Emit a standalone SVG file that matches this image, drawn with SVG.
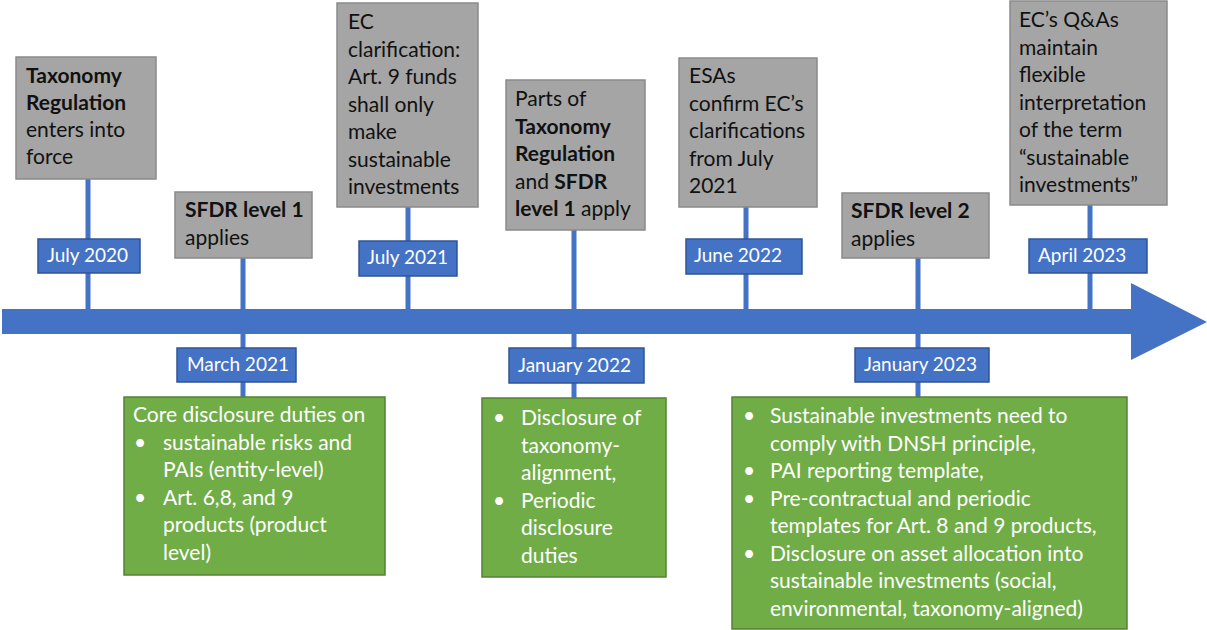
<svg xmlns="http://www.w3.org/2000/svg" width="1207" height="630" viewBox="0 0 1207 630">
<style>
.gray{fill:#A5A5A5;stroke:#8A8A8A;stroke-width:1.5}
.date{fill:#4472C4;stroke:#2F5597;stroke-width:1.5}
.green{fill:#70AD47;stroke:#548235;stroke-width:1.5}
.conn{stroke:#4472C4;stroke-width:5;fill:none}
text{font-family:Lato,"Liberation Sans",sans-serif}
.t{font-size:21px;fill:#111}
.b{font-weight:bold}
.d{font-size:19px;fill:#fff}
.w{font-size:21px;fill:#fff}
</style>
<rect width="1207" height="630" fill="#fff"/>
<g id="connectors">
<line class="conn" x1="88" y1="179" x2="88" y2="310"/>
<line class="conn" x1="243" y1="258" x2="243" y2="397"/>
<line class="conn" x1="408" y1="207" x2="408" y2="310"/>
<line class="conn" x1="574" y1="230" x2="574" y2="398"/>
<line class="conn" x1="746" y1="207" x2="746" y2="310"/>
<line class="conn" x1="918" y1="258" x2="918" y2="397"/>
<line class="conn" x1="1090" y1="205" x2="1090" y2="310"/>
</g>
<g id="timeline">
<polygon points="2,309 1131,309 1131,283 1207,322 1131,360 1131,334 2,334" fill="#4472C4"/>
</g>
<g id="n-jul2020-event">
<rect class="gray" x="16" y="57" width="140" height="122"/>
<text class="t" x="26"><tspan class="b" x="26" y="83">Taxonomy</tspan><tspan class="b" x="26" y="110">Regulation</tspan><tspan x="26" y="137">enters into</tspan><tspan x="26" y="164">force</tspan></text>
</g>
<g id="n-jul2020-date">
<rect class="date" x="38" y="239" width="102" height="34"/>
<text class="d" x="47" y="262">July 2020</text>
</g>
<g id="n-mar2021-event">
<rect class="gray" x="175" y="192" width="137" height="66"/>
<text class="t"><tspan class="b" x="185" y="217">SFDR level 1</tspan><tspan x="185" y="245">applies</tspan></text>
</g>
<g id="n-mar2021-date">
<rect class="date" x="177" y="348" width="119" height="34"/>
<text class="d" x="187" y="371">March 2021</text>
</g>
<g id="n-mar2021-duties">
<rect class="green" x="124" y="397" width="261" height="178"/>
<text class="w"><tspan x="133" y="422">Core disclosure duties on</tspan><tspan x="134" y="449.5">•</tspan><tspan x="163" y="449.5">sustainable risks and</tspan><tspan x="163" y="477">PAIs (entity-level)</tspan><tspan x="134" y="504.5">•</tspan><tspan x="163" y="504.5">Art. 6,8, and 9</tspan><tspan x="163" y="532">products (product</tspan><tspan x="163" y="559.5">level)</tspan></text>
</g>
<g id="n-jul2021-event">
<rect class="gray" x="337" y="3" width="141" height="204"/>
<text class="t"><tspan x="348" y="29">EC</tspan><tspan x="348" y="56.5">clarification:</tspan><tspan x="348" y="84">Art. 9 funds</tspan><tspan x="348" y="111.5">shall only</tspan><tspan x="348" y="139">make</tspan><tspan x="348" y="166.5">sustainable</tspan><tspan x="348" y="194">investments</tspan></text>
</g>
<g id="n-jul2021-date">
<rect class="date" x="359" y="241" width="98" height="35"/>
<text class="d" x="367" y="264">July 2021</text>
</g>
<g id="n-jan2022-event">
<rect class="gray" x="506" y="80" width="139" height="150"/>
<text class="t"><tspan x="515" y="106">Parts of</tspan><tspan class="b" x="515" y="133.5">Taxonomy</tspan><tspan class="b" x="515" y="161">Regulation</tspan><tspan x="515" y="188.5">and </tspan><tspan class="b">SFDR</tspan><tspan class="b" x="515" y="216">level 1</tspan><tspan> apply</tspan></text>
</g>
<g id="n-jan2022-date">
<rect class="date" x="509" y="348" width="135" height="35"/>
<text class="d" x="518" y="372">January 2022</text>
</g>
<g id="n-jan2022-duties">
<rect class="green" x="482" y="398" width="184" height="179"/>
<text class="w"><tspan x="493" y="425">•</tspan><tspan x="521" y="425">Disclosure of</tspan><tspan x="521" y="452.5">taxonomy-</tspan><tspan x="521" y="480">alignment,</tspan><tspan x="493" y="507.5">•</tspan><tspan x="521" y="507.5">Periodic</tspan><tspan x="521" y="535">disclosure</tspan><tspan x="521" y="562.5">duties</tspan></text>
</g>
<g id="n-jun2022-event">
<rect class="gray" x="679" y="58" width="138" height="149"/>
<text class="t"><tspan x="689" y="83">ESAs</tspan><tspan x="689" y="110.5">confirm EC’s</tspan><tspan x="689" y="138">clarifications</tspan><tspan x="689" y="165.5">from July</tspan><tspan x="689" y="193">2021</tspan></text>
</g>
<g id="n-jun2022-date">
<rect class="date" x="686" y="239" width="116" height="35"/>
<text class="d" x="694" y="262">June 2022</text>
</g>
<g id="n-jan2023-event">
<rect class="gray" x="842" y="193" width="147" height="65"/>
<text class="t"><tspan class="b" x="851" y="218">SFDR level 2</tspan><tspan x="851" y="246">applies</tspan></text>
</g>
<g id="n-jan2023-date">
<rect class="date" x="855" y="348" width="134" height="34"/>
<text class="d" x="864" y="371">January 2023</text>
</g>
<g id="n-jan2023-duties">
<rect class="green" x="732" y="397" width="395" height="232"/>
<text class="w"><tspan x="743" y="423">•</tspan><tspan x="770" y="423">Sustainable investments need to</tspan><tspan x="770" y="450.5">comply with DNSH principle,</tspan><tspan x="743" y="478">•</tspan><tspan x="770" y="478">PAI reporting template,</tspan><tspan x="743" y="505.5">•</tspan><tspan x="770" y="505.5">Pre-contractual and periodic</tspan><tspan x="770" y="533">templates for Art. 8 and 9 products,</tspan><tspan x="743" y="560.5">•</tspan><tspan x="770" y="560.5">Disclosure on asset allocation into</tspan><tspan x="770" y="588">sustainable investments (social,</tspan><tspan x="770" y="615.5">environmental, taxonomy-aligned)</tspan></text>
</g>
<g id="n-apr2023-event">
<rect class="gray" x="1010" y="1" width="157" height="204"/>
<text class="t"><tspan x="1019" y="27">EC’s Q&amp;As</tspan><tspan x="1019" y="54.5">maintain</tspan><tspan x="1019" y="82">flexible</tspan><tspan x="1019" y="109.5">interpretation</tspan><tspan x="1019" y="137">of the term</tspan><tspan x="1019" y="164.5">“sustainable</tspan><tspan x="1019" y="192">investments”</tspan></text>
</g>
<g id="n-apr2023-date">
<rect class="date" x="1029" y="239" width="118" height="34"/>
<text class="d" x="1038" y="262">April 2023</text>
</g>
</svg>
